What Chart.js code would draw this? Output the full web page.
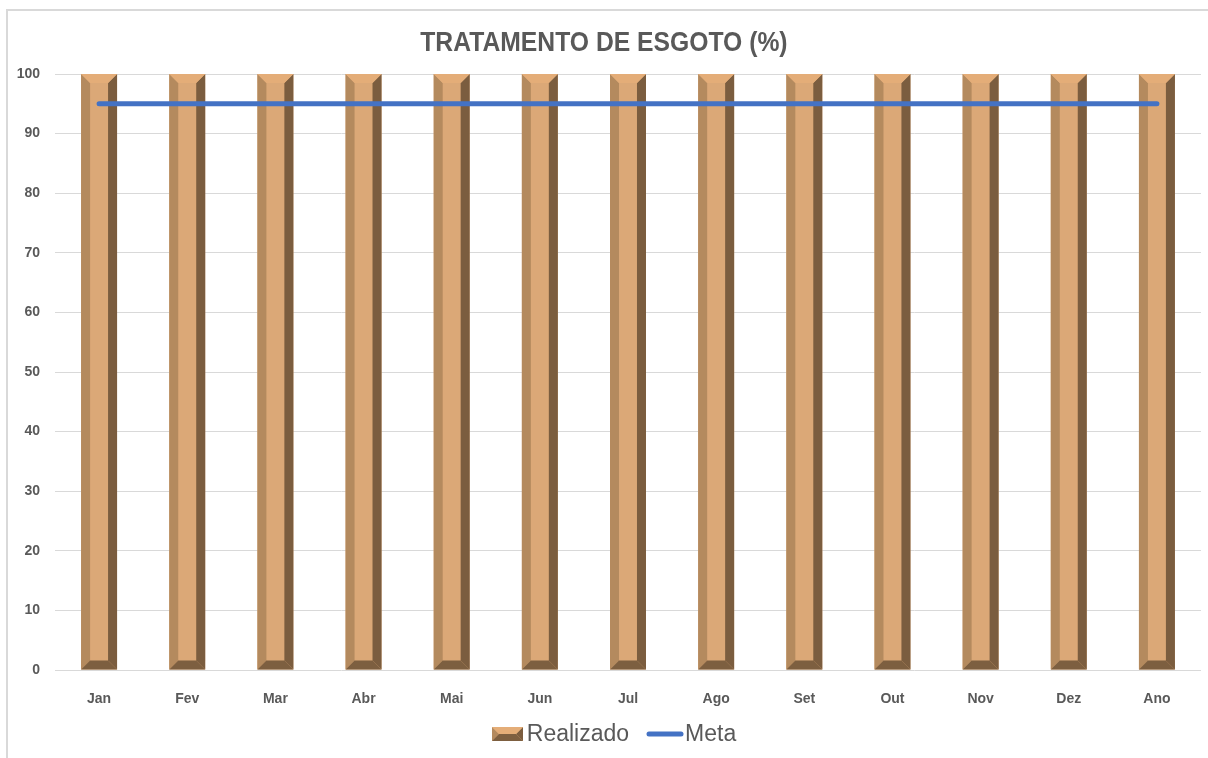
<!DOCTYPE html>
<html>
<head>
<meta charset="utf-8">
<title>Tratamento de Esgoto (%)</title>
<script src="https://cdn.jsdelivr.net/npm/chart.js@4/dist/chart.umd.min.js"></script>
<style>
  html, body { margin: 0; padding: 0; background: #fff; }
  #wrap { position: relative; width: 1208px; height: 758px; overflow: hidden; }
  #frame { position: absolute; left: 6px; top: 9px; width: 1230px; height: 800px;
           border-left: 2px solid #D9D9D9; border-top: 2px solid #D9D9D9; }
  #chart { position: absolute; left: 0; top: 0; }
  #title { position: absolute; left: 0; top: 26px; width: 1208px; text-align: center;
           font: bold 27px 'Liberation Sans Narrow', 'Arial Narrow', 'Liberation Sans', Arial, sans-serif;
           color: #595959; line-height: 32px; transform: scaleX(0.915); transform-origin: 603px 0; }
  #legend { position: absolute; left: 0; top: 720px; width: 1208px; padding-left: 20px; box-sizing: border-box;
            display: flex; justify-content: center; align-items: center;
            font: 23px 'Liberation Sans', Arial, sans-serif; color: #595959; }
  #legend .item { display: flex; align-items: center; }
  #legend canvas { display: block; }
</style>
</head>
<body>
<div id="wrap">
  <div id="frame"></div>
  <canvas id="chart" width="1208" height="758"></canvas>
  <div id="title">TRATAMENTO DE ESGOTO (%)</div>
  <div id="legend"></div>
</div>
<script>
// --- data ---
const months    = ['Jan','Fev','Mar','Abr','Mai','Jun','Jul','Ago','Set','Out','Nov','Dez','Ano'];
const realizado = [100,100,100,100,100,100,100,100,100,100,100,100,100];
const meta      = [95,95,95,95,95,95,95,95,95,95,95,95,95];
const yMin = 0, yMax = 100, yStep = 10;

const TEXT  = '#595959';
const GRID  = '#D9D9D9';
const BLUE  = '#4472C4';
const TICK_FONT = { family:"'Liberation Sans Narrow', 'Arial Narrow', 'Liberation Sans', sans-serif", size:14, weight:'bold' };
const bevelColors = { face:'#DBA877', top:'#E4AD78', left:'#B48A5E', right:'#7B5D3F', bottom:'#7D5F40' };

// bevelled "3D" box like the Excel bar style
function drawBevel(ctx, L, T, R, B, b) {
  const c = bevelColors;
  ctx.fillStyle = c.face;
  ctx.fillRect(L, T, R - L, B - T);
  const poly = (pts, col) => {
    ctx.beginPath();
    ctx.moveTo(pts[0][0], pts[0][1]);
    for (let i = 1; i < pts.length; i++) ctx.lineTo(pts[i][0], pts[i][1]);
    ctx.closePath();
    ctx.fillStyle = col;
    ctx.fill();
  };
  poly([[L,T],[L+b,T+b],[L+b,B-b],[L,B]], c.left);
  poly([[R,T],[R-b,T+b],[R-b,B-b],[R,B]], c.right);
  poly([[L,T],[R,T],[R-b,T+b],[L+b,T+b]], c.top);
  poly([[L,B],[R,B],[R-b,B-b],[L+b,B-b]], c.bottom);
}

const bevelPlugin = {
  id: 'bevelBars',
  afterDatasetDraw(chart, args) {
    if (args.index !== 0) return;
    const ctx = chart.ctx;
    ctx.save();
    chart.getDatasetMeta(0).data.forEach(bar => {
      const p = bar.getProps(['x','y','base','width'], true);
      drawBevel(ctx, p.x - p.width/2, p.y, p.x + p.width/2, p.base, 9);
    });
    ctx.restore();
  }
};

const chart = new Chart(document.getElementById('chart'), {
  data: {
    labels: months,
    datasets: [
      { type:'bar', label:'Realizado', data:realizado, order:2,
        backgroundColor:'rgba(0,0,0,0)', borderWidth:0,
        categoryPercentage:0.8, barPercentage:0.51 },
      { type:'line', label:'Meta', data:meta, order:1,
        borderColor:BLUE, backgroundColor:BLUE, borderWidth:5,
        borderCapStyle:'round', pointRadius:0, tension:0 }
    ]
  },
  options: {
    responsive:false, animation:false,
    layout:{ padding:{ left:0, right:7, top:74, bottom:43 } },
    plugins:{
      legend:{ display:false },
      tooltip:{ enabled:false },
      title:{ display:false }
    },
    scales:{
      x:{
        grid:{ display:false, drawTicks:false }, border:{ display:false },
        ticks:{ color:TEXT, padding:21, font:TICK_FONT },
        afterFit(s){ s.height = 45; }
      },
      y:{
        min:yMin, max:yMax,
        grid:{ color:GRID, lineWidth:1, drawTicks:false }, border:{ display:false },
        ticks:{ stepSize:yStep, color:TEXT, padding:15, font:TICK_FONT },
        afterFit(s){ s.width = 55; }
      }
    }
  },
  plugins:[bevelPlugin]
});

// legend built from the chart's own datasets
(function buildLegend() {
  const box = document.getElementById('legend');
  chart.data.datasets.forEach((ds, i) => {
    const item = document.createElement('div');
    item.className = 'item';
    const cv = document.createElement('canvas');
    const ctx = cv.getContext('2d');
    if (ds.type === 'bar') {
      cv.width = 31; cv.height = 16;
      cv.style.marginRight = '4px';
      drawBevel(ctx, 0, 1, 31, 15, 7);
    } else {
      cv.width = 38; cv.height = 8;
      cv.style.marginRight = '1px';
      ctx.strokeStyle = ds.borderColor; ctx.lineWidth = 5; ctx.lineCap = 'round';
      ctx.beginPath(); ctx.moveTo(3, 4); ctx.lineTo(35, 4); ctx.stroke();
    }
    const span = document.createElement('span');
    span.textContent = ds.label;
    item.appendChild(cv);
    item.appendChild(span);
    if (i > 0) item.style.marginLeft = '17px';
    box.appendChild(item);
  });
})();
</script>
</body>
</html>
